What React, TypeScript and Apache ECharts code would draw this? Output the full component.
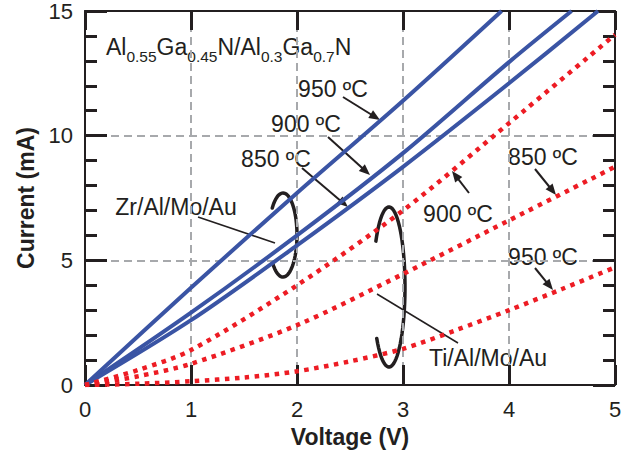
import React, { useEffect, useRef } from "react";
import * as echarts from "echarts";

// ---- Data (Voltage in V, Current in mA) ----
const zr950V = [0, 1, 2, 3, 3.93];
const zr950I = [0, 3.9, 7.7, 11.4, 15];
const zr900V = [0, 1, 2, 3, 4, 4.59];
const zr900I = [0, 2.9, 6.0, 9.3, 12.95, 15];
const zr850V = [0, 1, 2, 3, 4, 4.84];
const zr850I = [0, 2.6, 5.6, 8.75, 12.1, 15];

const ti900V = [0, 0.5, 1, 2, 3, 4, 5];
const ti900I = [0, 0.6, 1.4, 4.0, 7.0, 10.5, 14.05];
const ti850V = [0, 0.5, 1, 2, 3, 4, 5];
const ti850I = [0, 0.35, 0.85, 2.4, 4.45, 6.6, 8.75];
const ti950V = [0, 0.5, 1, 1.5, 2, 2.5, 3, 3.5, 4, 4.5, 5];
const ti950I = [0, 0.05, 0.15, 0.3, 0.55, 0.95, 1.45, 2.2, 3.0, 3.85, 4.72];

const xRange = [0, 5];
const yRange = [0, 15];

const FONT = "'Liberation Sans', Arial, Helvetica, sans-serif";
const INK = "#231f20";
const BLUE = "#3a54a4";
const RED = "#ed1c24";
const GRID = "#a7a9ac";

const pairs = (xs: number[], ys: number[]) => xs.map((x, i) => [x, ys[i]]);

function arrow(x1: number, y1: number, x2: number, y2: number) {
  const head = 11;
  const w = 4.5;
  const dx = x2 - x1;
  const dy = y2 - y1;
  const L = Math.hypot(dx, dy);
  const ux = dx / L;
  const uy = dy / L;
  const bx = x2 - ux * head;
  const by = y2 - uy * head;
  return [
    {
      type: "line",
      shape: { x1, y1, x2: bx + ux * 2, y2: by + uy * 2 },
      style: { stroke: INK, lineWidth: 2 },
    },
    {
      type: "polygon",
      shape: {
        points: [
          [x2, y2],
          [bx - uy * w, by + ux * w],
          [bx + uy * w, by - ux * w],
        ],
      },
      style: { fill: INK },
    },
  ];
}

function openEllipse(cx: number, cy: number, rx: number, ry: number, t0: number, t1: number) {
  const pts: number[][] = [];
  const n = 60;
  for (let i = 0; i <= n; i++) {
    const t = ((t0 + ((t1 - t0) * i) / n) * Math.PI) / 180;
    pts.push([cx + rx * Math.cos(t), cy + ry * Math.sin(t)]);
  }
  return {
    type: "polyline",
    shape: { points: pts },
    style: { stroke: INK, lineWidth: 3.5, fill: null, lineCap: "round" },
  };
}

function label(text: string, x: number, y: number) {
  return {
    type: "text",
    x,
    y,
    style: {
      text,
      fontSize: 23,
      fontFamily: FONT,
      fill: INK,
      textAlign: "center",
      textVerticalAlign: "middle",
    },
  };
}

export default function App() {
  const ref = useRef<HTMLDivElement>(null);

  useEffect(() => {
    document.body.style.margin = "0";
    const chart = echarts.init(ref.current!, undefined, { renderer: "svg" });

    const xTick = { show: true, inside: true, length: 20, lineStyle: { color: INK, width: 3 } };
    const yTick = { show: true, inside: true, length: 22, lineStyle: { color: INK, width: 3 } };
    const yMinor = { show: true, splitNumber: 5, length: 12, lineStyle: { color: INK, width: 3 } };
    const axisLine = (onZero: boolean) => ({ show: true, onZero, lineStyle: { color: INK, width: 2 } });
    const tickLabel = { fontSize: 22, fontFamily: FONT, color: INK };
    const nameStyle = { fontSize: 23, fontFamily: FONT, fontWeight: "bold", color: INK };
    const dashed = { show: true, lineStyle: { color: GRID, width: 2, type: [8, 5] } };

    const blue = (name: string, d: number[][]) => ({
      type: "line",
      name,
      data: d,
      showSymbol: false,
      smooth: 0.3,
      lineStyle: { color: BLUE, width: 4 },
    });
    const red = (name: string, d: number[][]) => ({
      type: "line",
      name,
      data: d,
      showSymbol: false,
      smooth: 0.3,
      lineStyle: { color: RED, width: 4.5, type: [4.5, 5.5], cap: "butt" },
    });

    const title = {
      type: "text",
      x: 106,
      y: 30,
      style: {
        text: "{m|Al}{s|0.55}{m|Ga}{s|0.45}{m|N/Al}{s|0.3}{m|Ga}{s|0.7}{m|N}",
        fill: INK,
        rich: {
          m: { fontSize: 23, fontFamily: FONT, fill: INK, color: INK },
          s: { fontSize: 15.5, fontFamily: FONT, fill: INK, color: INK, padding: [18, 0, 0, 0] },
        },
      },
    };

    chart.setOption({
      animation: false,
      grid: { left: 85, right: 17, top: 10, bottom: 68 },
      xAxis: [
        {
          type: "value",
          min: xRange[0],
          max: xRange[1],
          interval: 1,
          position: "bottom",
          axisLine: axisLine(true),
          axisTick: xTick,
          axisLabel: { ...tickLabel, margin: 13 },
          splitLine: dashed,
          name: "Voltage (V)",
          nameLocation: "middle",
          nameGap: 40,
          nameTextStyle: nameStyle,
        },
        {
          type: "value",
          min: xRange[0],
          max: xRange[1],
          interval: 1,
          position: "top",
          axisLine: axisLine(false),
          axisTick: { ...xTick, length: 19 },
          axisLabel: { show: false },
          splitLine: { show: false },
        },
      ],
      yAxis: [
        {
          type: "value",
          min: yRange[0],
          max: yRange[1],
          interval: 5,
          position: "left",
          axisLine: axisLine(true),
          axisTick: yTick,
          minorTick: yMinor,
          axisLabel: { ...tickLabel, margin: 12 },
          splitLine: dashed,
          name: "Current (mA)",
          nameLocation: "middle",
          nameGap: 48,
          nameTextStyle: nameStyle,
        },
        {
          type: "value",
          min: yRange[0],
          max: yRange[1],
          interval: 5,
          position: "right",
          axisLine: axisLine(false),
          axisTick: yTick,
          minorTick: yMinor,
          axisLabel: { show: false },
          splitLine: { show: false },
        },
      ],
      series: [
        blue("Zr/Al/Mo/Au 950 ºC", pairs(zr950V, zr950I)),
        blue("Zr/Al/Mo/Au 900 ºC", pairs(zr900V, zr900I)),
        blue("Zr/Al/Mo/Au 850 ºC", pairs(zr850V, zr850I)),
        red("Ti/Al/Mo/Au 900 ºC", pairs(ti900V, ti900I)),
        red("Ti/Al/Mo/Au 850 ºC", pairs(ti850V, ti850I)),
        red("Ti/Al/Mo/Au 950 ºC", pairs(ti950V, ti950I)),
      ],
      graphic: [
        title,
        label("950 ºC", 333, 89),
        ...arrow(343, 97, 380, 120),
        label("900 ºC", 306, 124),
        ...arrow(328, 137, 370, 175),
        label("850 ºC", 276, 159),
        ...arrow(302, 168, 348, 207),
        label("Zr/Al/Mo/Au", 176, 207),
        { type: "line", shape: { x1: 198, y1: 217, x2: 275, y2: 243 }, style: { stroke: INK, lineWidth: 1.5 } },
        openEllipse(283, 235, 14, 42, -140, 135),
        label("900 ºC", 458, 214),
        ...arrow(469, 193, 452, 171),
        label("850 ºC", 543, 157),
        ...arrow(535, 169, 556, 195),
        label("950 ºC", 543, 257),
        ...arrow(535, 268, 553, 290),
        openEllipse(389, 287, 16, 80, -145, 140),
        { type: "line", shape: { x1: 377, y1: 294, x2: 458, y2: 343 }, style: { stroke: INK, lineWidth: 1.5 } },
        label("Ti/Al/Mo/Au", 488, 358),
      ],
    });

    return () => chart.dispose();
  }, []);

  return (
    <div
      ref={ref}
      style={{ position: "fixed", left: 0, top: 0, width: 632, height: 453, background: "#fff" }}
    />
  );
}
